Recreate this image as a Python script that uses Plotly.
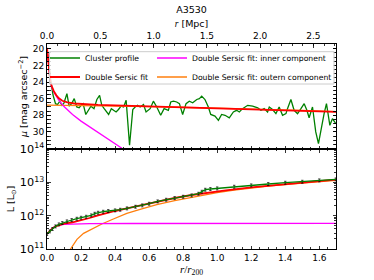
import numpy as np
import plotly.graph_objects as go

TITLE = "A3530"
R200_MPC = 1.597          # r200 in Mpc (top axis conversion)
X_MAX = 1.698             # r/r200 axis limit

# ---------------- top panel: surface brightness profile ----------------
r_prof = [0.000, 0.012, 0.024, 0.036, 0.050, 0.062, 0.075, 0.088, 0.100, 0.117,
          0.130, 0.145, 0.160, 0.175, 0.189, 0.200, 0.212, 0.228, 0.244, 0.258,
          0.276, 0.293, 0.309, 0.322, 0.336, 0.350, 0.362, 0.378, 0.391, 0.406,
          0.420, 0.435, 0.450, 0.465, 0.485, 0.504, 0.518, 0.532, 0.547, 0.567,
          0.582, 0.606, 0.625, 0.645, 0.668, 0.688, 0.713, 0.727, 0.743, 0.762,
          0.778, 0.797, 0.817, 0.836, 0.856, 0.880, 0.895, 0.909, 0.928, 0.948,
          0.962, 0.987, 1.007, 1.026, 1.046, 1.071, 1.095, 1.114, 1.130, 1.149,
          1.179, 1.208, 1.238, 1.257, 1.276, 1.296, 1.306, 1.325, 1.345, 1.364,
          1.384, 1.404, 1.413, 1.433, 1.452, 1.472, 1.492, 1.511, 1.527, 1.540,
          1.560, 1.579, 1.595, 1.609, 1.628, 1.642, 1.662, 1.677, 1.697]
mu_prof = [20.0, 22.3, 24.2, 25.6, 26.6, 26.7, 26.3, 26.8, 26.5, 25.4,
           26.9, 26.6, 26.0, 27.0, 27.1, 26.8, 26.6, 27.9, 27.3, 26.9,
           27.2, 26.1, 25.6, 26.8, 27.2, 27.6, 27.9, 27.2, 27.4, 27.6,
           27.3, 26.9, 27.0, 26.2, 31.6, 27.3, 27.0, 26.8, 27.0, 26.7,
           27.6, 27.2, 26.3, 27.0, 28.0, 27.2, 27.4, 26.4, 26.3, 26.4,
           26.6, 27.9, 26.6, 26.3, 26.5, 26.1, 26.0, 25.7, 26.1, 27.0,
           27.9, 28.1, 28.6, 27.9, 28.0, 28.3, 27.6, 27.4, 27.6, 27.2,
           26.8, 26.9, 27.1, 27.4, 27.2, 27.6, 27.0, 27.3, 27.8, 27.0,
           28.0, 27.8, 27.2, 26.1, 27.4, 27.8, 27.2, 26.6, 27.4, 28.3,
           27.0, 30.0, 31.4, 29.8, 27.8, 26.6, 29.2, 28.4, 29.0]

r_fit_mu = [0.0, 0.005, 0.01, 0.02, 0.03, 0.04, 0.055, 0.07, 0.09, 0.12, 0.16,
            0.22, 0.3, 0.45, 0.6, 0.8, 1.0, 1.2, 1.4, 1.6, 1.698]
mu_fit = [19.9, 21.0, 22.5, 24.0, 24.6, 25.1, 25.6, 25.95, 26.25, 26.45, 26.58,
          26.68, 26.75, 26.83, 26.91, 27.01, 27.12, 27.25, 27.38, 27.52, 27.58]

r_inner_mu = [0.0, 0.005, 0.01, 0.02, 0.03, 0.04, 0.055, 0.07, 0.1, 0.15, 0.2,
              0.25, 0.3, 0.35, 0.4, 0.44]
mu_inner = [19.9, 21.0, 22.5, 24.05, 24.7, 25.2, 25.7, 26.2, 26.95, 27.9, 28.7,
            29.4, 30.1, 30.75, 31.4, 31.95]

r_outer_mu = [0.0, 0.3, 0.6, 0.9, 1.2, 1.5, 1.698]
mu_outer = [26.78, 26.86, 26.96, 27.09, 27.25, 27.42, 27.56]

# ---------------- bottom panel: cumulative luminosity (log10 Lsun) ----------------
r_lum = [0.000, 0.016, 0.032, 0.050, 0.070, 0.090, 0.117, 0.145, 0.175, 0.200,
         0.230, 0.260, 0.280, 0.300, 0.330, 0.360, 0.400, 0.430, 0.470, 0.520,
         0.560, 0.600, 0.650, 0.700, 0.750, 0.800, 0.850, 0.890, 0.910, 0.930,
         0.960, 1.000, 1.100, 1.200, 1.300, 1.400, 1.500, 1.600, 1.697]
logL_prof = [11.45, 11.53, 11.60, 11.68, 11.74, 11.78, 11.83, 11.87, 11.91, 11.94,
             11.97, 12.01, 12.06, 12.09, 12.12, 12.14, 12.16, 12.18, 12.22, 12.27,
             12.31, 12.36, 12.43, 12.48, 12.53, 12.57, 12.61, 12.66, 12.72, 12.78,
             12.80, 12.82, 12.87, 12.91, 12.95, 12.99, 13.02, 13.06, 13.09]

r_lfit = [0.0, 0.016, 0.032, 0.05, 0.07, 0.1, 0.15, 0.2, 0.25, 0.3, 0.35, 0.4,
          0.47, 0.55, 0.65, 0.75, 0.85, 0.95, 1.05, 1.2, 1.4, 1.55, 1.697]
logL_fit = [11.45, 11.54, 11.62, 11.68, 11.72, 11.76, 11.80, 11.86, 11.93, 12.01,
            12.08, 12.14, 12.22, 12.31, 12.43, 12.53, 12.62, 12.70, 12.76, 12.85,
            12.94, 13.01, 13.08]

r_linner = [0.0, 0.016, 0.032, 0.05, 0.07, 0.1, 0.15, 0.25, 0.5, 1.0, 1.697]
logL_inner = [11.45, 11.55, 11.63, 11.69, 11.72, 11.74, 11.75, 11.76, 11.765, 11.77, 11.77]

r_louter = [0.06, 0.08, 0.10, 0.137, 0.176, 0.215, 0.273, 0.322, 0.39, 0.469,
            0.547, 0.645, 0.75, 0.9, 1.0, 1.1, 1.3, 1.5, 1.697]
logL_outer = [10.2, 10.5, 10.72, 10.99, 11.29, 11.47, 11.62, 11.75, 11.90, 12.07,
              12.19, 12.33, 12.45, 12.6, 12.69, 12.77, 12.89, 12.98, 13.06]

mu_ticks = [20, 22, 24, 26, 28, 30]
mpc_ticks = [0.0, 0.5, 1.0, 1.5, 2.0, 2.5]

GREEN = "#008000"
RED = "#ff0000"
MAGENTA = "#ff00ff"
ORANGE = "#ff7f0e"
FONT = "DejaVu Sans"
SERIF = "Liberation Serif"

L = lambda v: np.power(10.0, np.array(v))

fig = go.Figure()

# top panel traces (legend column 1: legend, column 2: legend2)
fig.add_trace(go.Scatter(x=r_prof, y=mu_prof, mode="lines", name="Cluster profile",
                         line=dict(color=GREEN, width=1.3), legend="legend",
                         legendrank=1, xaxis="x", yaxis="y"))
fig.add_trace(go.Scatter(x=r_outer_mu, y=mu_outer, mode="lines",
                         name="Double Sersic fit: outern component",
                         line=dict(color=ORANGE, width=1.3, shape="spline"),
                         legend="legend2", legendrank=2, xaxis="x", yaxis="y"))
fig.add_trace(go.Scatter(x=r_inner_mu, y=mu_inner, mode="lines",
                         name="Double Sersic fit: inner component",
                         line=dict(color=MAGENTA, width=1.3),
                         legend="legend2", legendrank=1, xaxis="x", yaxis="y"))
fig.add_trace(go.Scatter(x=r_fit_mu, y=mu_fit, mode="lines", name="Double Sersic fit",
                         line=dict(color=RED, width=1.8), legend="legend",
                         legendrank=2, xaxis="x", yaxis="y"))
# invisible carrier for the top Mpc axis
fig.add_trace(go.Scatter(x=mpc_ticks, y=[None] * len(mpc_ticks), mode="lines",
                         showlegend=False, hoverinfo="skip", xaxis="x3", yaxis="y"))

# bottom panel traces
fig.add_trace(go.Scatter(x=r_louter, y=L(logL_outer), mode="lines", showlegend=False,
                         line=dict(color=ORANGE, width=1.3), xaxis="x2", yaxis="y2"))
fig.add_trace(go.Scatter(x=r_linner, y=L(logL_inner), mode="lines", showlegend=False,
                         line=dict(color=MAGENTA, width=1.3), xaxis="x2", yaxis="y2"))
fig.add_trace(go.Scatter(x=r_lfit, y=L(logL_fit), mode="lines", showlegend=False,
                         line=dict(color=RED, width=1.8), xaxis="x2", yaxis="y2"))
fig.add_trace(go.Scatter(x=r_lum, y=L(logL_prof), mode="lines", showlegend=False,
                         line=dict(color=GREEN, width=1.3),
                         error_y=dict(type="percent", value=10, color="black",
                                      thickness=0.7, width=1.2),
                         xaxis="x2", yaxis="y2"))

H_BOT = 100 / 205.0
tick_font = dict(family=FONT, size=9, color="black")
common = dict(showline=True, linecolor="black", linewidth=1, ticks="inside",
              ticklen=3.5, tickwidth=0.8, tickcolor="black", showgrid=False,
              zeroline=False, tickfont=tick_font, automargin=False)

legend_font = dict(family=FONT, size=7.7, color="black")
LEG_Y = (249 - 43.5) / 205

fig.update_layout(
    width=374, height=280, autosize=False,
    margin=dict(l=47, r=38, t=44, b=31),
    paper_bgcolor="white", plot_bgcolor="white",
    font=dict(family=FONT, size=9, color="black"),
    title=dict(text=TITLE, x=0.5, xref="paper", xanchor="center",
               y=1 - 9.5 / 280, yref="container", yanchor="middle",
               font=dict(family=FONT, size=9.5, color="black")),
    xaxis=dict(**common, domain=[0, 1], anchor="y", range=[0, X_MAX],
               dtick=0.2, tick0=0, showticklabels=False, mirror=True,
               minor=dict(ticks="inside", ticklen=2, dtick=0.05, tickcolor="black")),
    xaxis3=dict(**common, overlaying="x", anchor="y", side="top",
                range=[0, X_MAX * R200_MPC], tickvals=mpc_ticks, tickformat=".1f",
                minor=dict(ticks="inside", ticklen=2, dtick=0.1, tickcolor="black"),
                title=dict(text='<span style="font-family:Liberation Serif"><i>r</i></span> [Mpc]',
                           font=dict(family=FONT, size=9.5), standoff=2)),
    yaxis=dict(**common, domain=[H_BOT, 1], anchor="x", range=[32.05, 19.43],
               tickvals=mu_ticks, mirror="allticks",
               minor=dict(ticks="inside", ticklen=2, dtick=0.5, tickcolor="black"),
               title=dict(text="<i>μ</i> [mag arcsec<sup>−2</sup>]",
                          font=dict(family=FONT, size=9.5), standoff=3)),
    xaxis2=dict(**common, domain=[0, 1], anchor="y2", range=[0, X_MAX],
                dtick=0.2, tick0=0, tickformat=".1f", mirror="allticks",
                ticklabelstandoff=0,
                minor=dict(ticks="inside", ticklen=2, dtick=0.05, tickcolor="black"),
                title=dict(text='<span style="font-family:Liberation Serif"><i>r</i>/<i>r</i><sub>200</sub></span>',
                           font=dict(family=SERIF, size=11), standoff=0)),
    yaxis2=dict(**common, domain=[0, H_BOT], anchor="x2", type="log", range=[11, 14],
                dtick=1, exponentformat="power", mirror="allticks",
                minor=dict(ticks="inside", ticklen=2, dtick="D1", tickcolor="black"),
                title=dict(text="L [L<sub>⊙</sub>]",
                           font=dict(family=FONT, size=9.5), standoff=3)),
    legend=dict(orientation="v", x=(45 - 47) / 289, xanchor="left", y=LEG_Y,
                yanchor="top", bgcolor="rgba(0,0,0,0)", borderwidth=0,
                font=legend_font, itemclick=False, itemdoubleclick=False),
    legend2=dict(orientation="v", x=(152 - 47) / 289, xanchor="left", y=LEG_Y,
                 yanchor="top", bgcolor="rgba(0,0,0,0)", borderwidth=0,
                 font=legend_font, itemclick=False, itemdoubleclick=False),
    shapes=[dict(type="rect", xref="paper", yref="paper",
                 x0=(49.5 - 47) / 289, x1=(334 - 47) / 289,
                 y0=(249 - 84) / 205, y1=(249 - 51.7) / 205,
                 fillcolor="rgba(255,255,255,0.8)",
                 line=dict(color="#cccccc", width=1), layer="above")],
)

fig.write_html("out.html",
               config={"displayModeBar": False, "staticPlot": True},
               post_script="document.body.style.margin='0';"
                           "document.body.style.overflow='hidden';")
